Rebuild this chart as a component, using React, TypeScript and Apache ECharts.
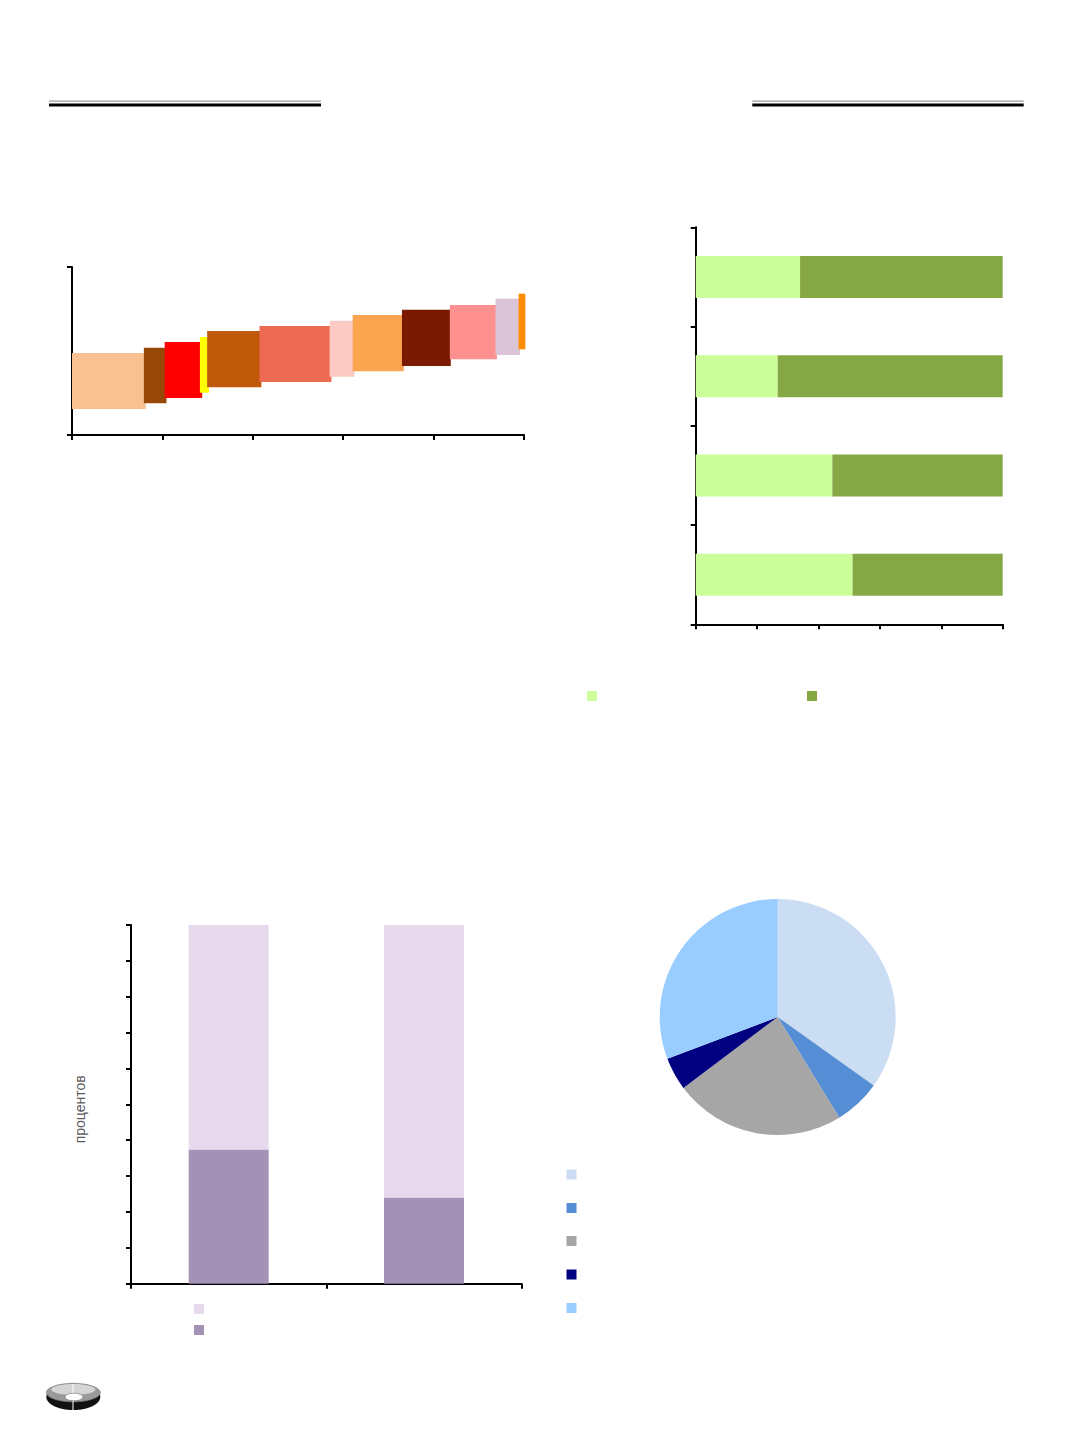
import React, { useEffect, useRef } from 'react';
import * as echarts from 'echarts';

// Chart 1: floating variable-width blocks
const segmentStart = [0, 15.9, 20.5, 28.3, 29.9, 41.5, 57.0, 62.1, 73.0, 83.6, 93.7, 98.8];
const segmentEnd = [16.3, 20.9, 28.8, 30.3, 41.9, 57.4, 62.5, 73.4, 83.8, 94.0, 99.1, 100.3];
const segmentLow = [15.5, 18.9, 22.0, 25.2, 28.4, 31.5, 34.7, 37.9, 41.1, 45.1, 47.6, 51.0];
const segmentHigh = [48.8, 52.0, 55.4, 58.3, 61.9, 64.9, 68.0, 71.4, 74.6, 77.4, 81.1, 84.1];
const segmentColors = ['#F9C192', '#974706', '#FF0000', '#FFFF00', '#C0590A', '#ED6A53', '#FACAC3', '#FCA550', '#7B1A02', '#FF9090', '#DCC4D8', '#FF8C00'];

// Chart 2: horizontal 100% stacked bars (bottom to top)
const hbarCategories = ['4', '3', '2', '1'];
const hbarLight = [51.1, 44.5, 26.7, 34.0];
const hbarDark = [48.9, 55.5, 73.3, 66.0];

// Chart 3: vertical 100% stacked bars
const vbarCategories = ['1', '2'];
const vbarDark = [37.4, 24.0];
const vbarLight = [62.6, 76.0];

// Chart 4: pie
const pieNames = ['a', 'b', 'c', 'd', 'e'];
const pieValues = [34.9, 6.4, 23.5, 4.5, 30.8];
const pieColors = ['#CBDDF2', '#558ED5', '#A6A6A6', '#000080', '#99CCFF'];

const axisLine = { show: true, lineStyle: { color: '#000', width: 2 } };
const axisTick = { show: true, length: 5, inside: false, lineStyle: { color: '#000', width: 2 } };

export default function App() {
  const ref = useRef<HTMLDivElement>(null);
  useEffect(() => {
    document.body.style.margin = '0';
    const chart = echarts.init(ref.current!, null, { renderer: 'svg' });
    const blockData = segmentStart.map((s, i) => [s, segmentEnd[i], segmentLow[i], segmentHigh[i]]);
    const legendSquares: any[] = [];
    const sq = (x: number, y: number, fill: string) =>
      legendSquares.push({ type: 'rect', shape: { x, y, width: 10, height: 10 }, style: { fill } });
    sq(587, 691, '#CCFF99');
    sq(807, 691, '#86A844');
    sq(194, 1304, '#E6DAEC');
    sq(194, 1325, '#A391B6');
    const pieLegendY = [1169.5, 1203, 1236, 1269.5, 1303];
    pieColors.forEach((c, i) => sq(566.5, pieLegendY[i], c));

    const option: any = {
      animation: false,
      grid: [
        { left: 72, top: 267, width: 452, height: 168 },
        { left: 695.7, top: 227.3, width: 307, height: 397 },
        { left: 131, top: 925, width: 390.7, height: 358.7 },
      ],
      xAxis: [
        { gridIndex: 0, type: 'value', min: 0, max: 100, interval: 20, axisLine, axisTick, axisLabel: { show: false }, splitLine: { show: false } },
        { gridIndex: 1, type: 'value', min: 0, max: 100, interval: 20, axisLine, axisTick, axisLabel: { show: false }, splitLine: { show: false } },
        { gridIndex: 2, type: 'category', data: vbarCategories, axisLine, axisTick, axisLabel: { show: false } },
      ],
      yAxis: [
        { gridIndex: 0, type: 'value', min: 0, max: 100, interval: 100, axisLine, axisTick, axisLabel: { show: false }, splitLine: { show: false } },
        { gridIndex: 1, type: 'category', data: hbarCategories, axisLine, axisTick, axisLabel: { show: false } },
        {
          gridIndex: 2, type: 'value', min: 0, max: 100, interval: 10, axisLine, axisTick, axisLabel: { show: false }, splitLine: { show: false },
          name: 'процентов', nameLocation: 'middle', nameGap: 44, nameRotate: 90,
          nameTextStyle: { fontFamily: 'Liberation Sans', fontSize: 14, color: '#595959', padding: [0, 10, 0, 0] },
        },
      ],
      series: [
        {
          type: 'custom', xAxisIndex: 0, yAxisIndex: 0, clip: false,
          encode: { x: [0, 1], y: [2, 3] },
          data: blockData,
          renderItem: (params: any, api: any) => {
            const p0 = api.coord([api.value(0), api.value(3)]);
            const p1 = api.coord([api.value(1), api.value(2)]);
            return {
              type: 'rect',
              shape: { x: p0[0], y: p0[1], width: p1[0] - p0[0], height: p1[1] - p0[1] },
              style: { fill: segmentColors[params.dataIndex] },
            };
          },
        },
        { type: 'bar', xAxisIndex: 1, yAxisIndex: 1, stack: 'h', data: hbarLight, barWidth: 42, itemStyle: { color: '#CCFF99' } },
        { type: 'bar', xAxisIndex: 1, yAxisIndex: 1, stack: 'h', data: hbarDark, barWidth: 42, itemStyle: { color: '#86A844' } },
        { type: 'bar', xAxisIndex: 2, yAxisIndex: 2, stack: 'v', data: vbarDark, barWidth: 80, itemStyle: { color: '#A391B6' } },
        { type: 'bar', xAxisIndex: 2, yAxisIndex: 2, stack: 'v', data: vbarLight, barWidth: 80, itemStyle: { color: '#E6DAEC' } },
        {
          type: 'pie', center: [777.7, 1017], radius: 118, startAngle: 90, clockwise: true,
          label: { show: false }, labelLine: { show: false }, emphasis: { disabled: true },
          itemStyle: { borderWidth: 0 },
          data: pieNames.map((n, i) => ({ name: n, value: pieValues[i], itemStyle: { color: pieColors[i] } })),
        },
      ],
      graphic: [
        // header rules
        { type: 'rect', shape: { x: 49, y: 100.3, width: 272, height: 1.6 }, style: { fill: '#B8B8B8' } },
        { type: 'rect', shape: { x: 49, y: 103.6, width: 272, height: 3 }, style: { fill: '#000' } },
        { type: 'rect', shape: { x: 752.3, y: 100.3, width: 271.4, height: 1.6 }, style: { fill: '#B8B8B8' } },
        { type: 'rect', shape: { x: 752.3, y: 103.6, width: 271.4, height: 3 }, style: { fill: '#000' } },
        ...legendSquares,
        // logo
        { type: 'ellipse', shape: { cx: 73.3, cy: 1397, rx: 27, ry: 13 }, style: { fill: '#111' } },
        { type: 'ellipse', shape: { cx: 73.3, cy: 1392.6, rx: 27, ry: 9.3 }, style: { fill: '#9A9A9A', stroke: '#777', lineWidth: 0.6 } },
        { type: 'ellipse', shape: { cx: 73.3, cy: 1389.5, rx: 22, ry: 5.5 }, style: { fill: '#D4D4D4' } },
        { type: 'ellipse', shape: { cx: 74, cy: 1397, rx: 9, ry: 3.8 }, style: { fill: '#fff', stroke: '#666', lineWidth: 0.6 } },
        { type: 'line', shape: { x1: 73, y1: 1384, x2: 73, y2: 1393 }, style: { stroke: '#fff', lineWidth: 1 } },
        { type: 'line', shape: { x1: 73, y1: 1401, x2: 73, y2: 1410 }, style: { stroke: '#fff', lineWidth: 1 } },
      ],
    };
    chart.setOption(option);
    return () => chart.dispose();
  }, []);
  return <div ref={ref} style={{ position: 'absolute', left: 0, top: 0, width: 1072, height: 1433 }} />;
}
